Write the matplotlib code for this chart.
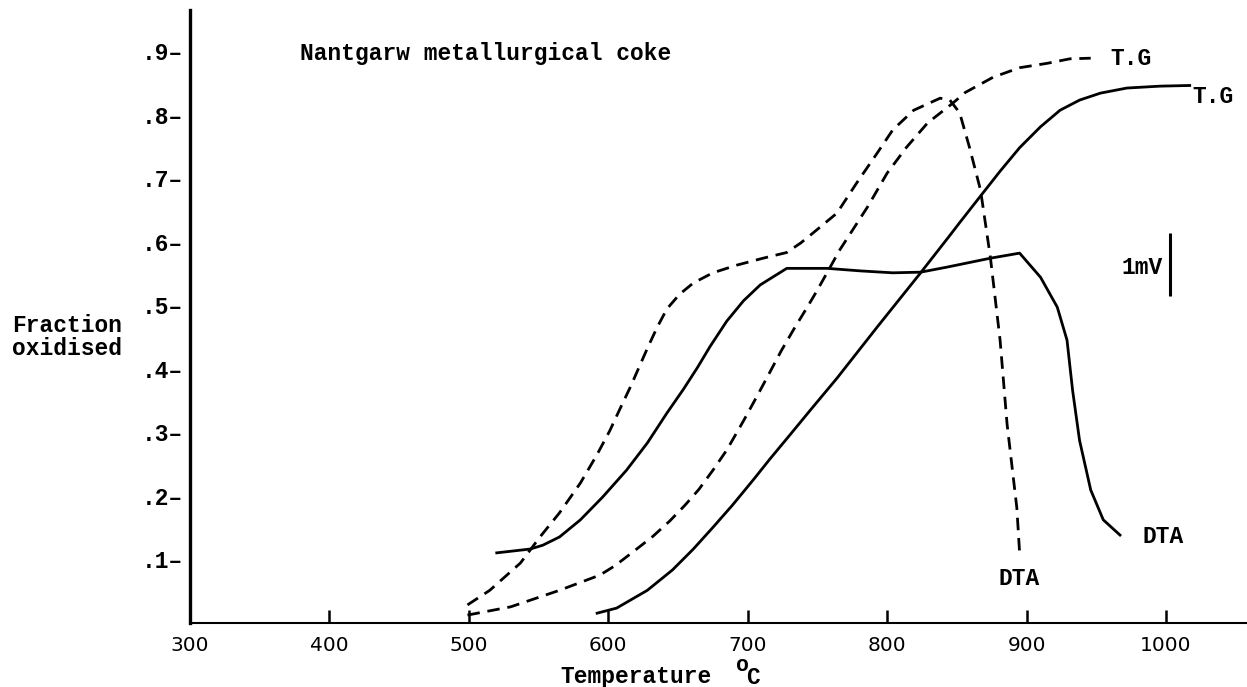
import matplotlib.pyplot as plt

# --- DATA ---
# T.G curves, fraction oxidised vs temperature (deg C)
TG_DASH_T = [499, 530, 565, 594, 605, 618, 632, 644, 655, 665, 675, 685, 697,
             707, 716, 724, 733, 743, 750, 766, 786, 800, 814, 829, 847, 856,
             876, 895, 915, 931, 946]
TG_DASH_F = [0.012, 0.025, 0.051, 0.075, 0.090, 0.112, 0.136, 0.160, 0.185,
             0.210, 0.240, 0.272, 0.318, 0.358, 0.395, 0.428, 0.462, 0.498,
             0.524, 0.587, 0.655, 0.708, 0.749, 0.787, 0.818, 0.835, 0.859,
             0.874, 0.881, 0.888, 0.889]

TG_SOLID_T = [592, 606, 628, 646, 661, 675, 689, 704, 716, 730, 745, 764, 793,
              824, 845, 852, 867, 881, 895, 910, 924, 938, 953, 972, 996, 1017]
TG_SOLID_F = [0.015, 0.023, 0.051, 0.083, 0.116, 0.150, 0.185, 0.225, 0.258,
              0.295, 0.335, 0.385, 0.466, 0.551, 0.610, 0.630, 0.672, 0.711,
              0.748, 0.781, 0.807, 0.823, 0.834, 0.842, 0.845, 0.846]

# DTA traces (plotted on the same scale)
DTA_DASH_T = [499, 515, 537, 551, 565, 580, 592, 601, 608, 616, 624, 628, 635,
              642, 651, 661, 675, 692, 711, 728, 738, 747, 764, 778, 793, 804,
              819, 838, 845, 852, 859, 867, 874, 881, 886, 893, 895]
DTA_DASH_F = [0.028, 0.051, 0.094, 0.135, 0.173, 0.220, 0.265, 0.302, 0.335,
              0.372, 0.412, 0.432, 0.465, 0.494, 0.517, 0.535, 0.551, 0.563,
              0.574, 0.583, 0.598, 0.614, 0.645, 0.692, 0.740, 0.776, 0.807,
              0.826, 0.823, 0.803, 0.749, 0.681, 0.576, 0.445, 0.313, 0.181,
              0.110]

DTA_SOLID_T = [520, 544, 553, 565, 580, 596, 613, 628, 642, 654, 664, 673, 685,
               697, 709, 728, 745, 757, 781, 804, 824, 843, 874, 895, 910, 922,
               929, 933, 938, 946, 955, 967]
DTA_SOLID_F = [0.110, 0.116, 0.122, 0.135, 0.162, 0.198, 0.240, 0.283, 0.330,
               0.368, 0.402, 0.435, 0.475, 0.507, 0.532, 0.558, 0.558, 0.558,
               0.554, 0.551, 0.552, 0.560, 0.574, 0.582, 0.544, 0.497, 0.445,
               0.366, 0.287, 0.209, 0.162, 0.138]

X_TICKS = [300, 400, 500, 600, 700, 800, 900, 1000]
Y_TICKS = [0.1, 0.2, 0.3, 0.4, 0.5, 0.6, 0.7, 0.8, 0.9]
Y_TICK_LABELS = ['.1', '.2', '.3', '.4', '.5', '.6', '.7', '.8', '.9']

TITLE = 'Nantgarw metallurgical coke'

# curve labels: (text, T, fraction)
CURVE_LABELS = [
    ('T.G', 960, 0.889),
    ('T.G', 1019, 0.828),
    ('DTA', 880, 0.070),
    ('DTA', 983, 0.135),
]

# 1 mV scale bar
SCALE_T = 1003
SCALE_F = (0.515, 0.613)

# --- STYLE ---
MONO = 'Liberation Mono'
TXT = dict(family=MONO, weight='bold', fontsize=16.5, color='black')
DASH = (0, (4.5, 2.8))
W, H = 1247, 687

fig = plt.figure(figsize=(W / 100, H / 100), dpi=100)
ax = fig.add_axes([190 / W, 64.3 / H, 1057 / W, 612.7 / H])
ax.set_xlim(300, 300 + 1057 / 1.3943)
ax.set_ylim(0, 612.7 / 635)

for s in ['top', 'right']:
    ax.spines[s].set_visible(False)
ax.spines['left'].set_linewidth(2.4)
ax.spines['bottom'].set_linewidth(1.5)

ax.plot(TG_DASH_T, TG_DASH_F, color='black', lw=2.0, ls=DASH)
ax.plot(TG_SOLID_T, TG_SOLID_F, color='black', lw=2.0)
ax.plot(DTA_DASH_T, DTA_DASH_F, color='black', lw=2.0, ls=DASH)
ax.plot(DTA_SOLID_T, DTA_SOLID_F, color='black', lw=2.0)

# axes ticks
ax.set_xticks(X_TICKS, labels=[str(t) for t in X_TICKS])
ax.tick_params(axis='x', direction='in', length=9.5, width=1.8, pad=9.5,
               labelsize=14.5)
for lab in ax.get_xticklabels():
    lab.set_family('DejaVu Sans')

ax.set_yticks(Y_TICKS, labels=[l + '\u2013' for l in Y_TICK_LABELS])
ax.tick_params(axis='y', length=0, pad=5)
for lab in ax.get_yticklabels():
    lab.set_family(MONO)
    lab.set_weight('bold')
    lab.set_fontsize(16.5)

# texts
ax.text(379, 0.897, TITLE, ha='left', va='center', **TXT)
for txt, t, f in CURVE_LABELS:
    ax.text(t, f, txt, ha='left', va='center', **TXT)

ax.text(968, 0.56, '1mV', ha='left', va='center', **TXT)
ax.vlines(SCALE_T, SCALE_F[0], SCALE_F[1], color='black', lw=2.2)

ax.text(0.422, -0.0984, 'Temperature', transform=ax.transAxes,
        ha='center', va='baseline', **TXT)
ax.text(0.5326, -0.1005, 'C', transform=ax.transAxes,
        ha='center', va='baseline', **TXT)
ax.text(0.5222, -0.0790, 'o', transform=ax.transAxes,
        ha='center', va='baseline', family=MONO, weight='bold', fontsize=15.5)

fig.text(12 / W, 1 - 337 / H, 'Fraction\noxidised', ha='left', va='center',
         linespacing=1.05, **TXT)

fig.savefig('out.png', dpi=100, facecolor='white')
